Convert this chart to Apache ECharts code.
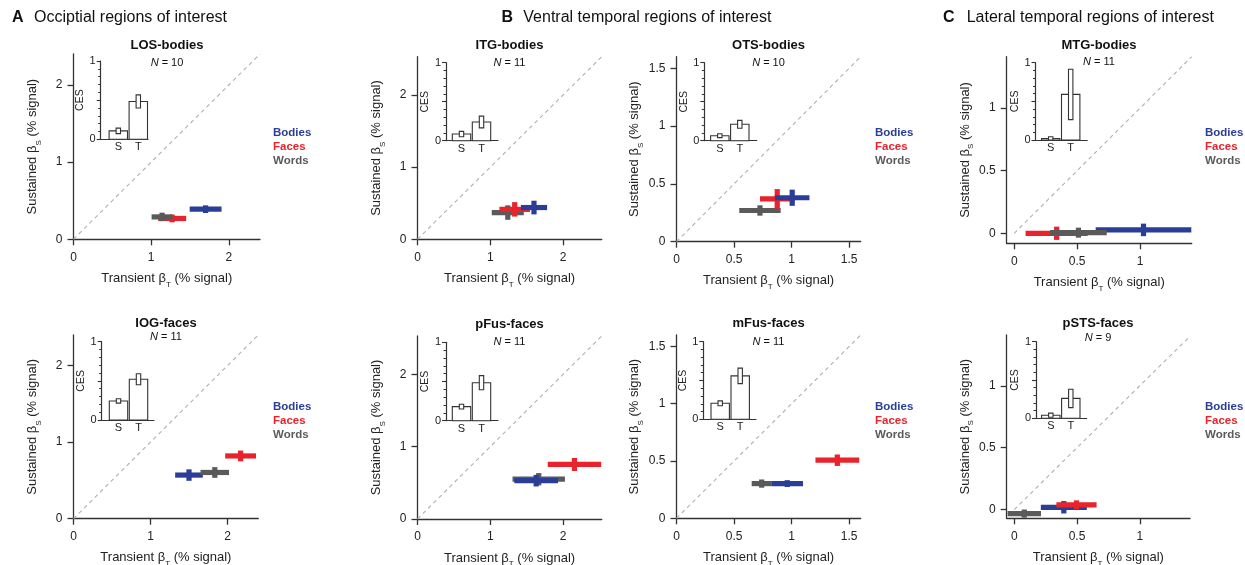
<!DOCTYPE html>
<html><head><meta charset="utf-8">
<script src="https://cdn.jsdelivr.net/npm/echarts@6/dist/echarts.min.js"></script>
<style>html,body{margin:0;padding:0;background:#fff}#c{width:1245px;height:565px}</style>
</head><body><div id="c"></div>
<script>
// ---------------- DATA ----------------
const panelNames = ['LOS-bodies','ITG-bodies','OTS-bodies','MTG-bodies','IOG-faces','pFus-faces','mFus-faces','pSTS-faces'];
const subjectsN  = [10, 11, 10, 11, 11, 11, 11, 9];
const categories = ['Bodies','Faces','Words'];
// each entry: [transient beta, sustained beta, transient SEM, sustained SEM]
const bodies = [[1.70,0.39,0.205,0.05],[1.60,0.44,0.18,0.095],[1.005,0.38,0.15,0.07],[1.027,0.027,0.38,0.05],
                [1.50,0.57,0.18,0.075],[1.63,0.53,0.30,0.08],[0.962,0.303,0.137,0.03],[0.395,0.019,0.183,0.05]];
const faces  = [[1.27,0.27,0.18,0.05],[1.335,0.415,0.21,0.10],[0.875,0.37,0.15,0.085],[0.337,0.0,0.247,0.053],
                [2.17,0.82,0.20,0.07],[2.156,0.754,0.367,0.09],[1.397,0.507,0.19,0.05],[0.496,0.038,0.16,0.037]];
const words  = [[1.14,0.29,0.135,0.055],[1.24,0.37,0.22,0.10],[0.725,0.27,0.18,0.045],[0.51,0.005,0.225,0.04],
                [1.835,0.604,0.185,0.07],[1.665,0.55,0.36,0.085],[0.74,0.303,0.087,0.036],[0.08,-0.032,0.133,0.033]];
// inset (CES) bars
const insetCats = ['S','T'];
const cesS    = [0.108, 0.085, 0.064, 0.02, 0.243, 0.18, 0.206, 0.04];
const cesSerr = [0.035, 0.035, 0.025, 0.022, 0.028, 0.03, 0.032, 0.027];
const cesT    = [0.483, 0.24, 0.21, 0.59, 0.52, 0.485, 0.56, 0.26];
const cesTerr = [0.084, 0.075, 0.05, 0.326, 0.07, 0.09, 0.10, 0.12];
// tick labels
const ticksA = [0, 1, 2];
const ticksB = [0, 1, 2];
const ticksB2 = [0, 0.5, 1, 1.5];
const ticksC = [0, 0.5, 1];
const insetTicks = [0, 1];
const headerLetters = ['A','B','C'];
const headerTexts = ['Occiptial regions of interest','Ventral temporal regions of interest','Lateral temporal regions of interest'];

// ---------------- LAYOUT / STYLE ----------------
const FONT = '"Liberation Sans", Arial, Helvetica, sans-serif';
const colorOf = {Bodies:'#2a3e97', Faces:'#e8232b', Words:'#5a5a5a'};
const seriesData = {Bodies: bodies, Faces: faces, Words: words};
const panelTicks = [ticksA, ticksB, ticksB2, ticksC, ticksA, ticksB, ticksB2, ticksC];
const layout = [
 {l:73.5,  t:54,    w:186.5, h:185.3, x:[0,2.4],     y:[0,2.4]},
 {l:417.5, t:56.7,  w:184.2, h:182.6, x:[0,2.53],    y:[0,2.53]},
 {l:676.5, t:56.7,  w:184.2, h:185,   x:[0,1.6],     y:[0,1.6]},
 {l:1006.7,t:56.7,  w:185,   h:186.6, x:[-0.06,1.41],y:[-0.08,1.41]},
 {l:73.5,  t:335,   w:184.8, h:183.7, x:[0,2.4],     y:[0,2.4]},
 {l:417.5, t:336,   w:184.2, h:183,   x:[0,2.53],    y:[0,2.53]},
 {l:676.5, t:335,   w:184.2, h:183.3, x:[0,1.6],     y:[0,1.6]},
 {l:1006.7,t:335,   w:183.3, h:183.3, x:[-0.06,1.4], y:[-0.07,1.41]}
];
const insetLayout = [
 {l:100.7, t:61,    w:47.3, h:78.3, x:[0.12,2.485]},
 {l:446,   t:62.7,  w:52,   h:78,   x:[0.225,2.825]},
 {l:704.3, t:62.7,  w:52.4, h:78,   x:[0.225,2.845]},
 {l:1035.5,t:62.7,  w:51.7, h:77.3, x:[0.24,2.825]},
 {l:101.7, t:341.7, w:52.3, h:78.3, x:[0.16,2.775]},
 {l:446,   t:342.3, w:52,   h:78.4, x:[0.225,2.825]},
 {l:703.3, t:341.7, w:52.7, h:77.6, x:[0.155,2.79]},
 {l:1036,  t:341.7, w:50.7, h:76.6, x:[0.26,2.795]}
];
const titlePos = [[167,45.5,62.5],[509.5,45.5,62.5],[768.5,45.5,63],[1099,45.5,61.5],
                  [166,323.5,337],[509.5,324.5,341.5],[768.5,323.5,341.5],[1098,323.5,338]];
const drawOrder = [['Faces','Words','Bodies'],['Words','Faces','Bodies'],['Words','Faces','Bodies'],['Faces','Bodies','Words'],
                   ['Bodies','Words','Faces'],['Words','Bodies','Faces'],['Words','Faces','Bodies'],['Words','Bodies','Faces']];
const legendPos = [[273,133],[875,133],[1205,133],[273,406.7],[875,406.7],[1205,406.7]];
const headerPos = [[12,34,18],[501.5,523.3,18],[943,966.7,18]];

const AX = '#333';
const grids = [], xAxes = [], yAxes = [], series = [], graphics = [];

function crossRender(color){
  return function(params, api){
    const x = api.value(0), y = api.value(1), ex = api.value(2), ey = api.value(3);
    const a = api.coord([x-ex, y]), b = api.coord([x+ex, y]);
    const c = api.coord([x, y-ey]), d = api.coord([x, y+ey]);
    return {type:'group', children:[
      {type:'line', shape:{x1:a[0],y1:a[1],x2:b[0],y2:b[1]}, style:{stroke:color, lineWidth:5.2, lineCap:'butt'}},
      {type:'line', shape:{x1:c[0],y1:c[1],x2:d[0],y2:d[1]}, style:{stroke:color, lineWidth:5.2, lineCap:'butt'}}
    ]};
  };
}
function barRender(params, api){
  const x = api.value(0), v = api.value(1), e = api.value(2);
  const top = api.coord([x, v]), base = api.coord([x, 0]);
  const eh = api.coord([x, v+e]), el = api.coord([x, v-e]);
  const bw = 18.4, ew = 4.4;
  return {type:'group', children:[
    {type:'rect', shape:{x:top[0]-bw/2, y:top[1], width:bw, height:base[1]-top[1]}, style:{fill:'#fff', stroke:AX, lineWidth:1.1}},
    {type:'rect', shape:{x:top[0]-ew/2, y:eh[1], width:ew, height:el[1]-eh[1]}, style:{fill:'#fff', stroke:AX, lineWidth:1.1}},
    {type:'text', x:base[0], y:base[1]+2.5, style:{text:insetCats[params.dataIndex], fontSize:11, fontFamily:FONT, fill:'#222', align:'center', verticalAlign:'top'}}
  ]};
}

panelNames.forEach((name, i) => {
  const L = layout[i], I = insetLayout[i];
  grids[i] = {left:L.l, top:L.t, width:L.w, height:L.h, containLabel:false, outerBoundsMode:'none'};
  grids[8+i] = {left:I.l, top:I.t, width:I.w, height:I.h, containLabel:false, outerBoundsMode:'none'};
  const subRich = {sub:{fontSize:8, fontFamily:FONT, color:'#222', verticalAlign:'bottom', lineHeight:20}};
  xAxes[i] = {gridIndex:i, type:'value', min:L.x[0], max:L.x[1],
    axisLine:{show:true, onZero:false, lineStyle:{color:AX, width:1.3}},
    axisTick:{show:true, length:6, customValues:panelTicks[i], lineStyle:{color:AX, width:1.3}},
    axisLabel:{customValues:panelTicks[i], fontSize:12, color:'#222', fontFamily:FONT, margin:12},
    splitLine:{show:false},
    name:'Transient β{sub|T} (% signal)', nameLocation:'middle', nameGap:29,
    nameTextStyle:{fontSize:13, color:'#222', fontFamily:FONT, rich:subRich}};
  yAxes[i] = {gridIndex:i, type:'value', min:L.y[0], max:L.y[1],
    axisLine:{show:true, onZero:false, lineStyle:{color:AX, width:1.3}},
    axisTick:{show:true, length:6, customValues:panelTicks[i], lineStyle:{color:AX, width:1.3}},
    axisLabel:{customValues:panelTicks[i], fontSize:12, color:'#222', fontFamily:FONT, margin:11},
    splitLine:{show:false},
    name:'Sustained β{sub|S} (% signal)', nameLocation:'middle', nameRotate:90, nameGap:(i%4>=2?30:31),
    nameTextStyle:{fontSize:13, color:'#222', fontFamily:FONT, rich:subRich}};
  xAxes[8+i] = {gridIndex:8+i, type:'value', min:I.x[0], max:I.x[1],
    axisLine:{show:true, onZero:false, lineStyle:{color:AX, width:1.2}},
    axisTick:{show:false}, axisLabel:{show:false}, splitLine:{show:false}};
  yAxes[8+i] = {gridIndex:8+i, type:'value', min:0, max:1, interval:0.5,
    axisLine:{show:true, lineStyle:{color:AX, width:1.2}},
    axisTick:{show:true, length:4, lineStyle:{color:AX, width:1.1}},
    minorTick:{show:true, splitNumber:5, length:2.5, lineStyle:{color:AX, width:1}},
    axisLabel:{customValues:insetTicks, fontSize:11, color:'#222', fontFamily:FONT, margin:5},
    splitLine:{show:false}, minorSplitLine:{show:false},
    name:'CES', nameLocation:'middle', nameRotate:90, nameGap:9,
    nameTextStyle:{fontSize:10.5, color:'#222', fontFamily:FONT}};

  const dmax = Math.min(L.x[1], L.y[1]);
  series.push({type:'line', xAxisIndex:i, yAxisIndex:i, data:[[0,0],[dmax,dmax]], symbol:'none', silent:true,
    lineStyle:{color:'#b0b0b0', width:1.1, type:[4,3.5]}, z:1, animation:false});
  drawOrder[i].forEach((cat, k) => {
    series.push({type:'custom', name:cat, xAxisIndex:i, yAxisIndex:i, data:[seriesData[cat][i]],
      renderItem:crossRender(colorOf[cat]), z:3+k, clip:false, animation:false});
  });
  series.push({type:'custom', xAxisIndex:8+i, yAxisIndex:8+i,
    data:[[1, cesS[i], cesSerr[i]], [2, cesT[i], cesTerr[i]]],
    renderItem:barRender, z:2, clip:false, animation:false});

  const tp = titlePos[i];
  graphics.push({type:'text', x:tp[0], y:tp[1], style:{text:name, fontSize:13, fontWeight:'bold', fontFamily:FONT, fill:'#111', align:'center', verticalAlign:'middle'}});
  graphics.push({type:'text', x:tp[0], y:tp[2], style:{text:'{i|N} = ' + subjectsN[i], fontSize:11, fontFamily:FONT, fill:'#111', align:'center', verticalAlign:'middle',
    rich:{i:{fontStyle:'italic', fontSize:11, fontFamily:FONT, fill:'#111'}}}});
});

legendPos.forEach(p => {
  categories.forEach((cat, k) => {
    graphics.push({type:'text', x:p[0], y:p[1] + k*14, style:{text:cat, fontSize:11.5, fontWeight:'bold', fontFamily:FONT, fill:colorOf[cat], align:'left', verticalAlign:'middle'}});
  });
});
headerLetters.forEach((ltr, k) => {
  const h = headerPos[k];
  graphics.push({type:'text', x:h[0], y:h[2], style:{text:ltr, fontSize:16, fontWeight:'bold', fontFamily:FONT, fill:'#111', align:'left', verticalAlign:'middle'}});
  graphics.push({type:'text', x:h[1], y:h[2], style:{text:headerTexts[k], fontSize:16, fontFamily:FONT, fill:'#111', align:'left', verticalAlign:'middle'}});
});

const chart = echarts.init(document.getElementById('c'));
chart.setOption({
  backgroundColor:'#fff',
  animation:false,
  grid:grids, xAxis:xAxes, yAxis:yAxes, series:series,
  graphic:{elements:graphics}
});
</script></body></html>
